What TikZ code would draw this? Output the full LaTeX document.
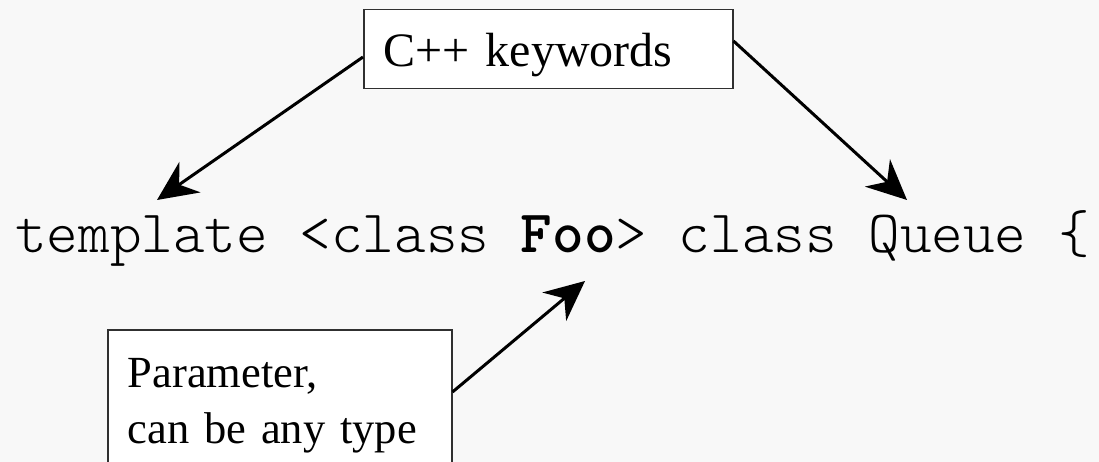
\documentclass[tikz,border=0pt]{standalone}
\usepackage{fontspec}
\setmainfont{Liberation Serif}
\setmonofont{lmmonolt10-regular.otf}[BoldFont=lmmonolt10-bold.otf]
\usetikzlibrary{arrows.meta,positioning}
\definecolor{paper}{HTML}{F8F8F8}
\definecolor{frame}{HTML}{303030}
\tikzset{
  notebox/.style={
    rectangle, draw=frame, fill=white, line width=1.5pt,
    inner xsep=20pt, inner ysep=0pt, align=left, anchor=north west
  },
  pointer/.style={
    -{Stealth[length=40pt,width=37pt,inset=13pt]}, line width=3pt, black
  },
  codeline/.style={
    font=\ttfamily\fontsize{60.2}{66}\selectfont, inner sep=0pt, anchor=base west
  },
}

\begin{document}
\begin{tikzpicture}[x=1pt,y=-1pt]
  \fill[paper] (0,0) rectangle (1099,462);
  \useasboundingbox (0,0) rectangle (1099,462);

  % Code line
  \node[codeline] (code) at (15,252) {template <class \textbf{Foo}> class Queue \{};
  \coordinate (tiptemplate) at (157,200);
  \coordinate (tipclass) at (907,200);
  \coordinate (tipfoo) at (585,281);

  % Keywords box
  \node[notebox, font=\fontsize{48}{56}\selectfont, text width=329pt,
        text height=57pt, text depth=22pt] (kw) at (363,9) {C++ keywords};
  \draw[pointer] ([yshift=-48pt]kw.north west) -- (tiptemplate);
  \draw[pointer] ([yshift=-32pt]kw.north east) -- (tipclass);

  % Parameter box
  \node[notebox, font=\fontsize{44.5}{56}\selectfont, text width=304pt,
        text height=58pt, text depth=100pt] (parm) at (107,329)
        {Parameter,\\can be any type};
  \draw[pointer] ([yshift=-63pt]parm.north east) -- (tipfoo);
\end{tikzpicture}
\end{document}
